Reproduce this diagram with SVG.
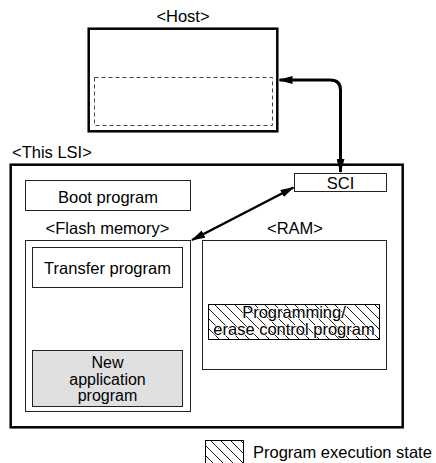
<svg xmlns="http://www.w3.org/2000/svg" width="436" height="463" viewBox="0 0 436 463">
<style>
text{font-family:"Liberation Sans",Arial,sans-serif;font-size:16.5px;fill:#000}
.c{text-anchor:middle}
.s{font-size:16px}
.thin{fill:#fff;stroke:#222;stroke-width:1}
.thick{fill:#fff;stroke:#000;stroke-width:2.5}
.halo{paint-order:stroke;stroke:#fff;stroke-width:1.6px;stroke-linejoin:round}
.conn{fill:none;stroke:#000}
</style>
<defs>
<pattern id="hatch" patternUnits="userSpaceOnUse" width="10" height="10">
<rect width="10" height="10" fill="#fff"/>
<path d="M0,0 L10,10 M-1,9 L1,11 M9,-1 L11,1" stroke="#000" stroke-width="0.9"/>
</pattern>
<marker id="ah" viewBox="0 0 14 8" refX="13" refY="4" markerWidth="14" markerHeight="8" markerUnits="userSpaceOnUse" orient="auto-start-reverse">
<path d="M0,0 L14,4 L0,8 Z" fill="#000"/>
</marker>
</defs>
<g id="host">
<text class="c" x="183" y="22">&lt;Host&gt;</text>
<rect class="thick" x="88.7" y="28.7" width="188.6" height="102.6"/>
<rect x="94.5" y="77.5" width="178" height="48" fill="none" stroke="#444" stroke-width="1" stroke-dasharray="4,3"/>
</g>
<g id="lsi">
<text x="12" y="158">&lt;This LSI&gt;</text>
<rect class="thick" x="10.7" y="164.7" width="392" height="262.6"/>
</g>
<g id="boot">
<rect class="thin" x="25.5" y="180.5" width="165" height="30"/>
<text class="c" x="108" y="203">Boot program</text>
</g>
<g id="sci">
<rect class="thin" x="294.5" y="173.5" width="92" height="18"/>
<text class="c" x="340.5" y="189">SCI</text>
</g>
<g id="flash">
<text class="c" x="107.5" y="234">&lt;Flash memory&gt;</text>
<rect class="thin" x="25.5" y="240.5" width="165" height="171"/>
</g>
<g id="transfer">
<rect class="thin" x="32.5" y="247.5" width="150" height="40"/>
<text class="c" x="107.5" y="273.5">Transfer program</text>
</g>
<g id="newapp">
<rect x="32.5" y="350.5" width="150" height="56" fill="#e0e0e0" stroke="#222" stroke-width="1"/>
<text class="c s" x="107.5" y="368">New</text>
<text class="c s" x="107.5" y="384.5">application</text>
<text class="c s" x="107.5" y="401">program</text>
</g>
<g id="ram">
<text class="c" x="295" y="234">&lt;RAM&gt;</text>
<rect class="thin" x="202.5" y="240.5" width="184" height="129"/>
</g>
<g id="progerase">
<rect x="208.5" y="304.5" width="171" height="35" fill="url(#hatch)" stroke="#000" stroke-width="1"/>
<text class="c halo" x="294" y="317.5">Programming/</text>
<text class="c halo" x="294" y="334.5">erase control program</text>
</g>
<g id="legend">
<rect x="205.5" y="440.5" width="38" height="30" fill="url(#hatch)" stroke="#000" stroke-width="1"/>
<text x="253" y="458">Program execution state</text>
</g>
<g id="connectors">
<path class="conn" stroke-width="3" d="M279.5,80 L330,80 Q340.5,80 340.5,90 L340.5,172" marker-start="url(#ah)" marker-end="url(#ah)"/>
<path class="conn" stroke-width="2.5" d="M192,240 L293.5,187.5" marker-start="url(#ah)" marker-end="url(#ah)"/>
</g>
</svg>
